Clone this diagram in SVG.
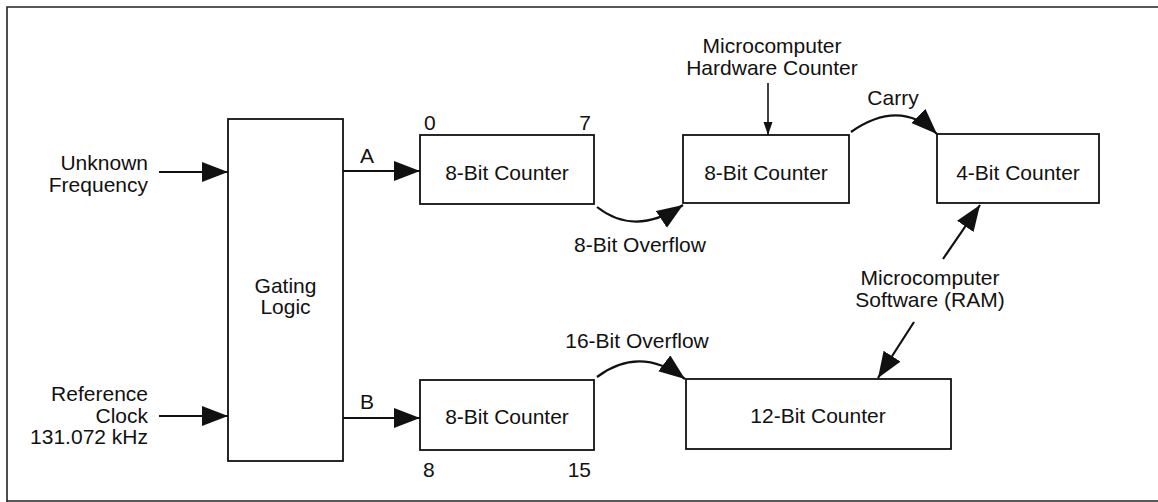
<svg xmlns="http://www.w3.org/2000/svg" width="1158" height="502" viewBox="0 0 1158 502">
<style>
text{font-family:"Liberation Sans",Arial,sans-serif;font-size:21px;fill:#111}
.m{text-anchor:middle}
.e{text-anchor:end}
.box{fill:#fff;stroke:#111;stroke-width:1.8}
.w{fill:none;stroke:#111;stroke-width:2.2}
.thin{fill:none;stroke:#111;stroke-width:1.6}
.frame{fill:none;stroke:#222;stroke-width:1.6}
</style>
<defs>
<marker id="big" markerUnits="userSpaceOnUse" markerWidth="28" markerHeight="22" refX="26" refY="10" orient="auto">
<path d="M0,0 L26,10 L0,20 Z" fill="#111"/>
</marker>
<marker id="small" markerUnits="userSpaceOnUse" markerWidth="14" markerHeight="10" refX="13" refY="4.5" orient="auto">
<path d="M0,0 L13,4.5 L0,9 Z" fill="#111"/>
</marker>
</defs>
<path class="frame" d="M7,502 L7,7 L1158,7 M7,501 L1158,501"/>
<g id="gating"><rect class="box" x="228" y="119" width="115" height="342"/><text class="m" x="285.5" y="293">Gating</text><text class="m" x="285.5" y="314">Logic</text></g>
<g id="counterA"><rect class="box" x="420" y="135" width="174" height="69"/><text class="m" x="507" y="180">8-Bit Counter</text><text x="424" y="130">0</text><text class="e" x="591" y="130">7</text></g>
<g id="counterB"><rect class="box" x="420" y="380" width="174" height="70"/><text class="m" x="507" y="424">8-Bit Counter</text><text x="423" y="477">8</text><text class="e" x="591" y="477">15</text></g>
<g id="hwcounter"><rect class="box" x="683" y="135" width="166" height="68"/><text class="m" x="766" y="180">8-Bit Counter</text></g>
<g id="counter4"><rect class="box" x="937" y="134" width="162" height="69"/><text class="m" x="1018" y="180">4-Bit Counter</text></g>
<g id="counter12"><rect class="box" x="686" y="379" width="265" height="70"/><text class="m" x="818" y="423">12-Bit Counter</text></g>
<g id="labels">
<text class="e" x="148" y="170">Unknown</text><text class="e" x="148" y="192">Frequency</text>
<text class="e" x="148" y="401">Reference</text><text class="e" x="148" y="423">Clock</text><text class="e" x="148" y="444">131.072 kHz</text>
<text x="360" y="163">A</text><text x="360" y="409">B</text>
<text class="m" x="772" y="53">Microcomputer</text><text class="m" x="772" y="75">Hardware Counter</text>
<text class="m" x="930" y="285">Microcomputer</text><text class="m" x="930" y="307">Software (RAM)</text>
<text class="m" x="640" y="252">8-Bit Overflow</text>
<text class="m" x="637" y="348">16-Bit Overflow</text>
<text class="m" x="893" y="105">Carry</text>
</g>
<g id="connectors">
<path class="w" d="M159,172 L228,172" marker-end="url(#big)"/>
<path class="w" d="M159,416 L228,416" marker-end="url(#big)"/>
<path class="w" d="M343,171 L420,171" marker-end="url(#big)"/>
<path class="w" d="M343,418 L420,418" marker-end="url(#big)"/>
<path class="w" d="M597,207 Q635,237 683,205" marker-end="url(#big)"/>
<path class="w" d="M851,132 Q900,98 937,134" marker-end="url(#big)"/>
<path class="w" d="M597,377 Q640,345 685,379" marker-end="url(#big)"/>
<path class="thin" d="M768,83 L768,135" marker-end="url(#small)"/>
<path class="w" d="M943,259 L980,205" marker-end="url(#big)"/>
<path class="w" d="M914,322 L878,378" marker-end="url(#big)"/>
</g>
</svg>
